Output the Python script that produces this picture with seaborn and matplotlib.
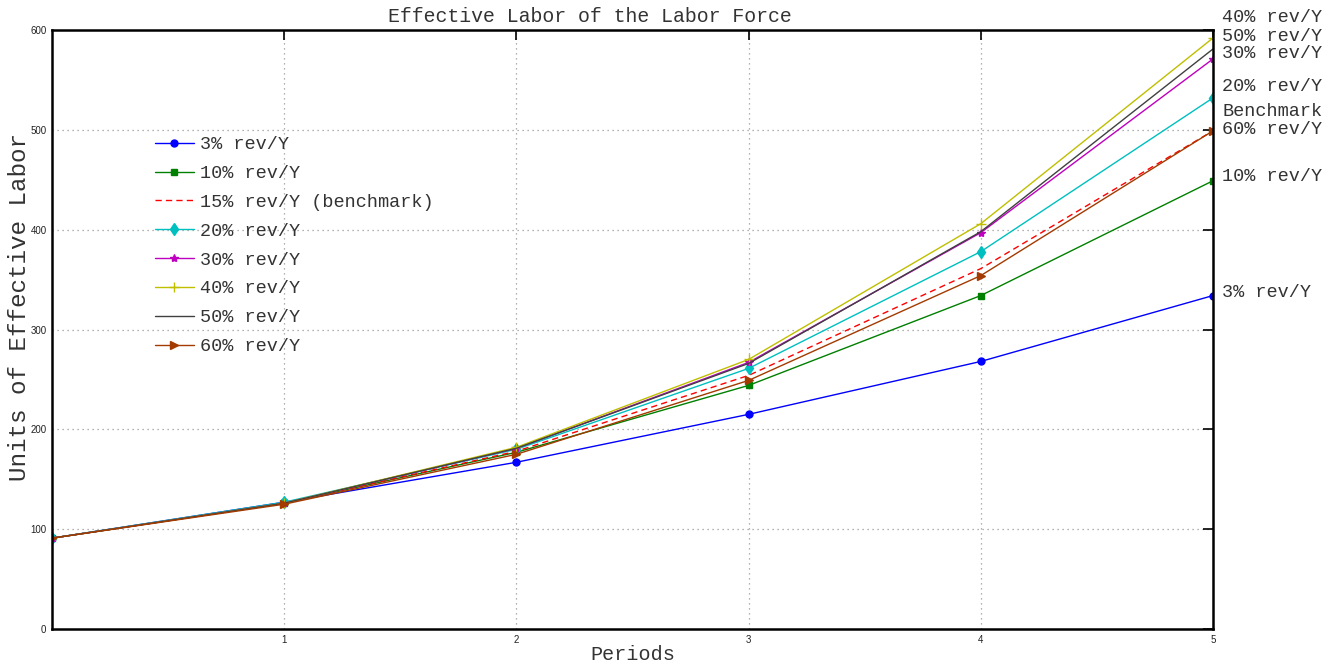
import matplotlib
matplotlib.use("Agg")
import matplotlib.pyplot as plt
import seaborn as sns
import numpy as np

# Periods and effective labor for each revision rate
periods = [0, 1, 2, 3, 4, 5]
rev_3 = [91, 127, 167, 215, 268, 334]
rev_10 = [91, 126, 177, 244, 334, 449]
rev_15 = [91, 126, 178, 254, 361, 499]
rev_20 = [91, 127, 180, 261, 378, 532]
rev_30 = [91, 126, 181, 267, 397, 571]
rev_40 = [91, 126, 182, 270, 406, 592]
rev_50 = [91, 126, 181, 266, 398, 581]
rev_60 = [91, 125, 175, 249, 354, 499]

legend_labels = ["3% rev/Y", "10% rev/Y", "15% rev/Y (benchmark)", "20% rev/Y",
                 "30% rev/Y", "40% rev/Y", "50% rev/Y", "60% rev/Y"]

# End-of-line annotations: (text, y position of the text)
end_labels = ["3% rev/Y", "10% rev/Y", "60% rev/Y", "Benchmark",
              "20% rev/Y", "30% rev/Y", "50% rev/Y", "40% rev/Y"]
end_label_y = [337, 453, 500, 518, 543, 576, 593, 613]

x_ticks = [1, 2, 3, 4, 5]
y_ticks = [0, 100, 200, 300, 400, 500, 600]

sns.set_style("white")
plt.rcParams["font.family"] = ["Liberation Mono", "DejaVu Sans Mono"]

series = [rev_3, rev_10, rev_15, rev_20, rev_30, rev_40, rev_50, rev_60]
colors = ["#0000ff", "#008000", "#ff0000", "#00bfbf", "#bf00bf", "#bfbf00",
          "#404040", "#a33a00"]
markers = ["o", "s", "", "d", "*", "+", "", ">"]
styles = ["-", "-", (0, (4.5, 3)), "-", "-", "-", "-", "-"]
msizes = [5, 5, 0, 6, 6, 7, 0, 6]

fig = plt.figure(figsize=(13.4, 6.64), dpi=100)
ax = fig.add_axes([52 / 1340, 35 / 664, (1213 - 52) / 1340, (629 - 30) / 664])

for vals, lab, c, m, ls, ms in zip(series, legend_labels, colors, markers, styles, msizes):
    sns.lineplot(x=periods, y=vals, ax=ax, color=c, marker=m if m else None,
                 markersize=ms, linestyle=ls, linewidth=1.0, label=lab,
                 markeredgecolor=c, markerfacecolor=c, markeredgewidth=1.0)

ax.set_xlim(0, 5)
ax.set_ylim(0, 600)
ax.set_xticks(x_ticks)
ax.set_yticks(y_ticks)
ax.set_xticklabels([str(t) for t in x_ticks])
ax.set_yticklabels([str(t) for t in y_ticks])
ax.tick_params(axis="both", direction="in", length=7, width=1.2,
               top=True, right=True, labelsize=7, colors="black",
               labelcolor="#222222", pad=4)
for lbl in ax.get_xticklabels() + ax.get_yticklabels():
    lbl.set_family("Liberation Sans")

ax.grid(True, linestyle=(0, (1, 3)), color="#999999", linewidth=0.9)
for sp in ax.spines.values():
    sp.set_visible(True)
    sp.set_color("black")
    sp.set_linewidth(1.8)

ax.set_title("Effective Labor of the Labor Force", fontsize=14.3, pad=6,
             x=0.4634, color="#333333")
ax.set_xlabel("Periods", fontsize=14.5, labelpad=0, color="#333333")
ax.set_ylabel("Units of Effective Labor", fontsize=17.5, color="#333333")
ax.yaxis.set_label_coords(-0.018, 0.537)

handles, labels = ax.get_legend_handles_labels()
ax.legend(handles, labels, loc="upper left", bbox_to_anchor=(0.082, 0.835),
          frameon=False, fontsize=13.3, handlelength=2.15, handletextpad=0.3,
          labelspacing=0.64, borderaxespad=0, labelcolor="#333333")

for txt, yy in zip(end_labels, end_label_y):
    ax.text(5.039, yy, txt, fontsize=13.3, va="center", ha="left",
            color="#333333", clip_on=False)

fig.savefig("out.png", dpi=100)
